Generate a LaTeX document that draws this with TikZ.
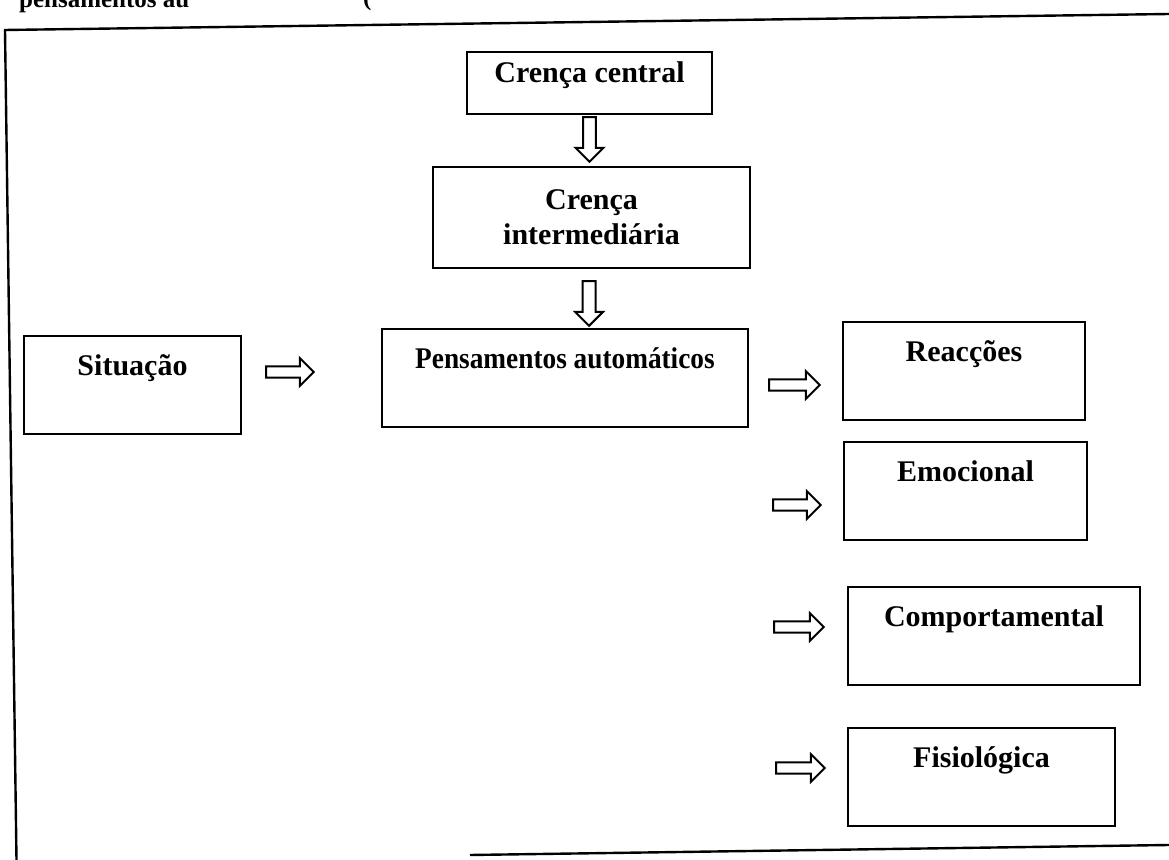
\documentclass[tikz,border=0pt]{standalone}
\usepackage{fontspec}
\setmainfont{Liberation Serif}
\newfontfamily\estreita{Liberation Serif}[FakeStretch=0.91]
\usetikzlibrary{calc}
\tikzset{
  every path/.style={
    black,
    line width=1.2pt
  },
  bloco/.style={
    draw,
    inner sep=0pt,
    align=center,
    font=\fontsize{15}{17.5}\selectfont\bfseries
  },
  caixa/.style={
    bloco,
    text height=20pt,
    text depth=29pt
  },
  topo/.style={
    anchor=base west,
    inner sep=0pt,
    font=\fontsize{12.5}{15}\selectfont\bfseries
  },
  setadir/.style={
    line width=1pt,
    to path={let \p1=(\tikztostart), \p2=(\tikztotarget) in
      (\x1,\y2+2.8pt) -- (\x2-7pt,\y2+2.8pt) -- (\x2-7pt,\y2+7pt) -- (\x2,\y2)
      -- (\x2-7pt,\y2-7pt) -- (\x2-7pt,\y2-2.8pt) -- (\x1,\y2-2.8pt) -- cycle}
  },
  setabaixo/.style={
    line width=1pt,
    to path={let \p1=(\tikztostart), \p2=(\tikztotarget) in
      (\x1-3.2pt,\y1) -- (\x1-3.2pt,\y2+7pt) -- (\x1-7pt,\y2+7pt) -- (\x1,\y2)
      -- (\x1+7pt,\y2+7pt) -- (\x1+3.2pt,\y2+7pt) -- (\x1+3.2pt,\y1) -- cycle}
  }
}

\begin{document}
\begin{tikzpicture}[x=0.5pt,y=-0.5pt]
    \path[use as bounding box] (0,0) rectangle (1169,860);

    % texto cortado no topo
    \node[topo] (tit) at (18,8) {pensamentos au};
    \node[topo] (par) at (362,6) {(};

    % moldura
    \draw (1169,14) -- (5,30) -- (16.5,860) (1169,845) -- (470,855);

    % crencas
    \node[bloco, minimum width=122.5pt, text height=15.5pt, text depth=15.5pt] (cc) at (589.5,83) {Crença central};
    \node[bloco, minimum width=158.5pt, minimum height=50.5pt] (ci) at (591.5,217.5) {Crença\\intermediária};
    \draw[setabaixo] ([yshift=-1pt]cc.south) to ([yshift=2pt]ci.north);

    % situacao e pensamentos
    \node[caixa, minimum width=108.5pt] (sit) at (132.5,385) {Situação};
    \node[caixa, minimum width=183pt, font=\estreita\fontsize{15}{17.5}\selectfont\bfseries] (pen) at (565,378) {Pensamentos automáticos};
    \draw[setabaixo] ([xshift=-1.2pt,yshift=-6pt]ci.south) to ([yshift=1pt]pen.north);
    \draw[setadir] ([xshift=12pt]sit.east) to ([xshift=-33.5pt,yshift=3pt]pen.west);

    % reaccoes
    \node[caixa, minimum width=121pt] (rea) at (964,371) {Reacções};
    \node[caixa, minimum width=121.5pt] (emo) at (965.5,491) {Emocional};
    \node[caixa, minimum width=146pt] (com) at (994,636) {Comportamental};
    \node[caixa, minimum width=133.5pt] (fis) at (981.5,777) {Fisiológica};
    \draw[setadir] ([xshift=10pt]pen.east) to ([xshift=-11pt,yshift=-7pt]rea.west);
    \draw[setadir] ([xshift=12pt]pen.east) to ([xshift=-11pt,yshift=-7pt]emo.west);
    \draw[setadir] ([xshift=12.5pt]pen.east) to ([xshift=-11.5pt,yshift=4.5pt]com.west);
    \draw[setadir] ([xshift=13.5pt]pen.east) to ([xshift=-11pt,yshift=4.5pt]fis.west);
\end{tikzpicture}
\end{document}
